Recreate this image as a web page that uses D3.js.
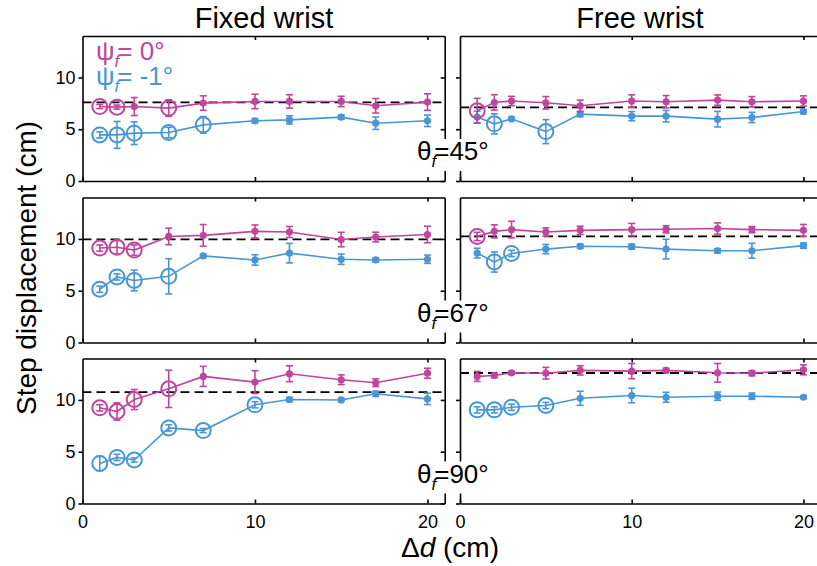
<!DOCTYPE html>
<html>
<head>
<meta charset="utf-8">
<script src="https://cdn.jsdelivr.net/npm/d3@7"></script>
<style>
html, body{margin:0;padding:0;background:#fff;overflow:hidden;}
svg{display:block;}
text{font-family:"Liberation Sans", Arial, sans-serif;}
</style>
</head>
<body>
<div id="canvas"></div>
<script>
let xs = [1, 2, 3, 5, 7, 10, 12, 15, 17, 20];

// fixed wrist, theta 45
let fix45Mag = [7.19, 7.13, 7.19, 7.04, 7.52, 7.68, 7.68, 7.68, 7.26, 7.62],
fix45MagErr = [0.2, 0.2, 0.87, 0.8, 0.7, 0.7, 0.65, 0.5, 0.7, 0.8],
fix45MagOpen = [1, 2, 5],
fix45Blue = [4.45, 4.45, 4.62, 4.68, 5.42, 5.81, 5.9, 6.17, 5.58, 5.81],
fix45BlueErr = [0.3, 1.3, 1.1, 0.5, 0.8, 0.2, 0.4, 0.2, 0.6, 0.55],
fix45BlueOpen = [1, 2, 3, 5, 7];

// free wrist, theta 45
let free45Mag = [6.78, 7.58, 7.72, 7.55, 7.26, 7.72, 7.65, 7.81, 7.65, 7.72],
free45MagErr = [1.2, 0.75, 0.45, 0.6, 0.55, 0.6, 0.6, 0.5, 0.5, 0.5],
free45MagOpen = [1],
free45Blue = [6.17, 5.52, 6.0, 4.77, 6.46, 6.26, 6.26, 5.97, 6.13, 6.71],
free45BlueErr = [0.56, 0.97, 0.15, 1.16, 0.25, 0.45, 0.55, 0.75, 0.5, 0.2],
free45BlueOpen = [2, 5];

// fixed wrist, theta 67
let fix67Mag = [9.12, 9.19, 8.92, 10.24, 10.34, 10.73, 10.67, 9.94, 10.18, 10.43],
fix67MagErr = [0.3, 0.65, 0.5, 0.8, 1.05, 0.62, 0.53, 0.7, 0.47, 0.8],
fix67MagOpen = [1, 2, 3],
fix67Blue = [5.14, 6.33, 5.99, 6.39, 8.36, 7.97, 8.63, 8.04, 7.97, 8.04],
fix67BlueErr = [0.3, 0.3, 1.0, 1.7, 0.15, 0.5, 0.94, 0.5, 0.2, 0.4],
fix67BlueOpen = [1, 2, 3, 5];

// free wrist, theta 67
let free67Mag = [10.24, 10.73, 10.9, 10.67, 10.83, 10.9, 10.93, 11.0, 10.9, 10.83],
free67MagErr = [0.4, 0.63, 0.8, 0.4, 0.4, 0.6, 0.35, 0.55, 0.3, 0.57],
free67MagOpen = [1],
free67Blue = [8.63, 7.77, 8.6, 9.02, 9.29, 9.25, 9.02, 8.86, 8.86, 9.35],
free67BlueErr = [0.47, 0.97, 0.3, 0.45, 0.2, 0.25, 0.95, 0.2, 0.72, 0.25],
free67BlueOpen = [2, 3];

// fixed wrist, theta 90
let fix90Mag = [9.24, 8.88, 10.04, 11.07, 12.27, 11.72, 12.53, 11.95, 11.66, 12.58],
fix90MagErr = [0.3, 0.84, 0.97, 1.8, 0.97, 1.1, 0.77, 0.47, 0.37, 0.48],
fix90MagOpen = [1, 2, 3, 5],
fix90Blue = [3.87, 4.45, 4.2, 7.3, 7.04, 9.53, 10.04, 10.0, 10.59, 10.1],
fix90BlueErr = [0.7, 0.3, 0.2, 0.3, 0.2, 0.3, 0.2, 0.15, 0.25, 0.55],
fix90BlueOpen = [1, 2, 3, 5, 7, 10];

// free wrist, theta 90
let free90Mag = [12.27, 12.36, 12.62, 12.58, 12.85, 12.78, 12.85, 12.62, 12.58, 12.91],
free90MagErr = [0.48, 0.2, 0.15, 0.56, 0.45, 0.73, 0.2, 0.9, 0.25, 0.48],
free90MagOpen = [],
free90Blue = [9.04, 9.04, 9.29, 9.46, 10.16, 10.43, 10.26, 10.36, 10.36, 10.26],
free90BlueErr = [0.3, 0.3, 0.3, 0.3, 0.68, 0.7, 0.48, 0.4, 0.3, 0.1],
free90BlueOpen = [1, 2, 3, 5];

// dashed reference level per row
let refFixed = [7.6, 9.95, 10.75],
refFree = [7.1, 10.25, 12.6],
thetaLabels = ['45°', '67°', '90°'],
colTitles = ['Fixed wrist', 'Free wrist'],
yTicks = [0, 5, 10],
xTicks = [0, 10, 20];

let magenta = '#c1449d',
blue = '#4896d6',
FONT = '"Liberation Sans", Arial, sans-serif';

let canvas = d3.select('#canvas').append('svg').attr('width', 817).attr('height', 566);

let colRange = [[82.5, 444.7], [460, 820.6]],
rowTop = [36, 197.5, 358.5],
panelH = 145;

let panels = [
	{col:0, row:0, ref:refFixed[0], mag:[fix45Mag, fix45MagErr, fix45MagOpen], blu:[fix45Blue, fix45BlueErr, fix45BlueOpen]},
	{col:1, row:0, ref:refFree[0], mag:[free45Mag, free45MagErr, free45MagOpen], blu:[free45Blue, free45BlueErr, free45BlueOpen]},
	{col:0, row:1, ref:refFixed[1], mag:[fix67Mag, fix67MagErr, fix67MagOpen], blu:[fix67Blue, fix67BlueErr, fix67BlueOpen]},
	{col:1, row:1, ref:refFree[1], mag:[free67Mag, free67MagErr, free67MagOpen], blu:[free67Blue, free67BlueErr, free67BlueOpen]},
	{col:0, row:2, ref:refFixed[2], mag:[fix90Mag, fix90MagErr, fix90MagOpen], blu:[fix90Blue, fix90BlueErr, fix90BlueOpen]},
	{col:1, row:2, ref:refFree[2], mag:[free90Mag, free90MagErr, free90MagOpen], blu:[free90Blue, free90BlueErr, free90BlueOpen]}
];

panels.forEach(drawPanel);

function drawPanel(p){
	let x = d3.scaleLinear().domain([0, 21]).range(colRange[p.col]),
	y = d3.scaleLinear().domain([0, 14]).range([rowTop[p.row] + panelH, rowTop[p.row]]),
	g = canvas.append('g'),
	axes = [];
	
	//box and ticks
	axes.push(g.append('g').attr('transform', 'translate(' + x(0) + ',0)')
	.call(d3.axisLeft(y).tickValues(yTicks).tickSize(4).tickSizeOuter(0).tickPadding(3)
		.tickFormat(p.col == 0 ? d3.format('d') : '')));
	//right edge of the free wrist column is cut off by the figure edge
	if(p.col == 0){
		axes.push(g.append('g').attr('transform', 'translate(' + x(21) + ',0)')
		.call(d3.axisRight(y).tickValues(yTicks).tickSize(-4).tickSizeOuter(0).tickFormat('')));
	}
	axes.push(g.append('g').attr('transform', 'translate(0,' + y(14) + ')')
	.call(d3.axisTop(x).tickValues([10, 20]).tickSize(-4).tickSizeOuter(0).tickFormat('')));
	axes.push(g.append('g').attr('transform', 'translate(0,' + y(0) + ')')
	.call(d3.axisBottom(x).tickValues(xTicks).tickSize(-4).tickSizeOuter(0).tickPadding(12)
		.tickFormat(p.row == 2 ? d3.format('d') : '')));
	
	axes.forEach(a=>{
		a.attr('font-family', FONT).attr('font-size', 18);
		a.selectAll('path, line').attr('stroke', '#000').attr('stroke-width', 1.6);
		a.selectAll('text').attr('fill', '#000');
	});
	
	//dashed reference
	g.append('line')
	.attr('x1', x(0))
	.attr('x2', x(21))
	.attr('y1', y(p.ref))
	.attr('y2', y(p.ref))
	.style('stroke', '#000')
	.style('stroke-width', 1.8)
	.style('stroke-dasharray', '9,5');
	
	drawSeries(g, x, y, p.blu, blue);
	drawSeries(g, x, y, p.mag, magenta);
}

function drawSeries(g, x, y, s, color){
	let vals = s[0], errs = s[1], open = s[2],
	pts = xs.map((d, i)=>({x:d, v:vals[i], e:errs[i], open:open.indexOf(d) > -1}));
	
	g.append('path')
	.datum(pts)
	.attr('d', d3.line().x(d=>x(d.x)).y(d=>y(d.v)))
	.style('fill', 'none')
	.style('stroke', color)
	.style('stroke-width', 1.6);
	
	//error bars
	let eb = g.append('g').selectAll('g').data(pts).enter().append('g')
	.style('stroke', color)
	.style('stroke-width', 1.6);
	eb.append('line')
	.attr('x1', d=>x(d.x)).attr('x2', d=>x(d.x))
	.attr('y1', d=>y(d.v - d.e)).attr('y2', d=>y(d.v + d.e));
	eb.append('line')
	.attr('x1', d=>x(d.x) - 3.5).attr('x2', d=>x(d.x) + 3.5)
	.attr('y1', d=>y(d.v - d.e)).attr('y2', d=>y(d.v - d.e));
	eb.append('line')
	.attr('x1', d=>x(d.x) - 3.5).attr('x2', d=>x(d.x) + 3.5)
	.attr('y1', d=>y(d.v + d.e)).attr('y2', d=>y(d.v + d.e));
	
	//markers
	g.append('g').selectAll('circle').data(pts).enter().append('circle')
	.attr('cx', d=>x(d.x))
	.attr('cy', d=>y(d.v))
	.attr('r', d=>d.open ? 7.5 : 3.6)
	.style('fill', d=>d.open ? 'none' : color)
	.style('stroke', color)
	.style('stroke-width', d=>d.open ? 2 : 0);
}

//theta labels with white patch over the panel borders
thetaLabels.forEach((t, i)=>{
	let lab = canvas.append('g'),
	txt = lab.append('text')
	.attr('x', 417)
	.attr('y', rowTop[i] + 124)
	.attr('font-size', 26)
	.attr('fill', '#000');
	txt.append('tspan').text('θ');
	txt.append('tspan').attr('font-size', 17).attr('font-style', 'italic').attr('dy', 7).text('f');
	txt.append('tspan').attr('dx', -2).attr('dy', -7).text('=' + t);
	let bb = txt.node().getBBox();
	lab.insert('rect', 'text')
	.attr('x', bb.x)
	.attr('y', bb.y + 3)
	.attr('width', bb.width + 2)
	.attr('height', bb.height - 3)
	.style('fill', '#fff');
});

//legend
[['= 0°', magenta], ['= -1°', blue]].forEach((d, i)=>{
	let txt = canvas.append('text')
	.attr('x', 96)
	.attr('y', 60 + i * 25)
	.attr('font-size', 26)
	.attr('fill', d[1]);
	txt.append('tspan').text('ψ');
	txt.append('tspan').attr('font-size', 17).attr('font-style', 'italic').attr('dy', 7).text('f');
	txt.append('tspan').attr('dx', -2).attr('dy', -7).text(d[0]);
});

//column titles
colTitles.forEach((t, i)=>{
	canvas.append('text')
	.attr('x', i == 0 ? 264 : 640)
	.attr('y', 28)
	.attr('text-anchor', 'middle')
	.attr('font-size', 29)
	.text(t);
});

//axis labels
canvas.append('text')
.attr('transform', 'translate(36,268) rotate(-90)')
.attr('text-anchor', 'middle')
.attr('font-size', 28)
.text('Step displacement (cm)');

let xl = canvas.append('text')
.attr('x', 450)
.attr('y', 557)
.attr('text-anchor', 'middle')
.attr('font-size', 28);
xl.append('tspan').text('Δ');
xl.append('tspan').attr('font-style', 'italic').text('d');
xl.append('tspan').text(' (cm)');
</script>
</body>
</html>
